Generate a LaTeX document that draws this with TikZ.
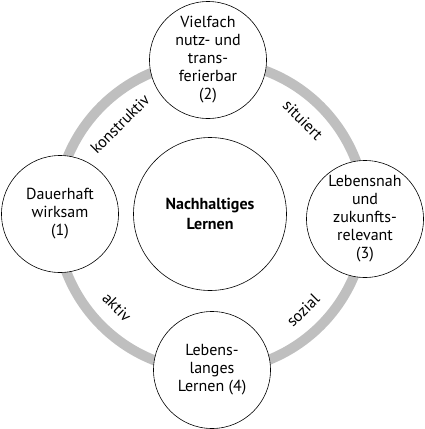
\documentclass[tikz,border=0pt]{standalone}
\usepackage{fontspec}
\setmainfont{PT Sans}
\begin{document}
\begin{tikzpicture}[x=1pt, y=-1pt,
		ziel/.style={circle, draw, line width=0.6pt, fill=white, minimum size=117pt, inner sep=0pt, align=center, font=\fontsize{16}{18}\selectfont},
		merkmal/.style={font=\fontsize{16}{18}\selectfont, inner sep=0pt}]
		\useasboundingbox (0,0) rectangle (424,429);
		\coordinate (M) at (211,216);
		\draw[line width=10pt, black!25] (M) circle[radius=155];
		\node[ziel, minimum size=153pt, font=\fontsize{16}{20}\selectfont\bfseries] (kern) at (210,214) {Nachhaltiges\\Lernen};
		\node[ziel] (dauer) at (60,214) {Dauerhaft\\wirksam\\(1)};
		\node[ziel] (vielfach) at (208,60) {Vielfach\\nutz- und\\trans-\\ferierbar\\(2)};
		\node[ziel] (nah) at (365,219) {Lebensnah\\und\\zukunfts-\\relevant\\(3)};
		\node[ziel] (lang) at (212,370) {Lebens-\\langes\\Lernen (4)};
		\node[merkmal, rotate=45] (konstr) at (120,124) {konstruktiv};
		\node[merkmal, rotate=-45] (sit) at (303,120) {situiert};
		\node[merkmal, rotate=-45] (akt) at (117,307) {aktiv};
		\node[merkmal, rotate=45] (soz) at (303,310) {sozial};
\end{tikzpicture}
\end{document}
